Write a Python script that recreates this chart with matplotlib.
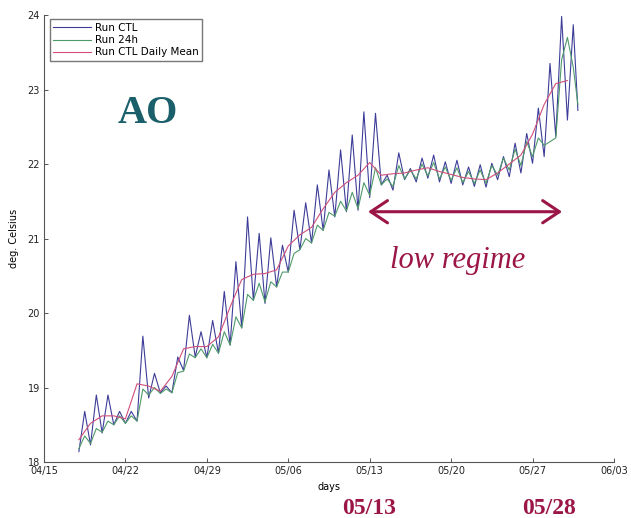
import numpy as np
import matplotlib
matplotlib.use("Agg")
import matplotlib.pyplot as plt

# days counted from 04/15; CTL/24h sampled at night minimum / afternoon maximum
T0, STEP = 3.0, 0.5
ctl = [18.14, 18.68, 18.23, 18.90, 18.39, 18.90, 18.50, 18.68, 18.52, 18.68,
       18.55, 19.69, 18.86, 19.19, 18.93, 19.02, 18.93, 19.41, 19.23, 19.97,
       19.41, 19.75, 19.40, 19.90, 19.46, 20.29, 19.57, 20.69, 19.80, 21.29,
       20.17, 21.07, 20.13, 21.01, 20.35, 20.91, 20.55, 21.38, 20.85, 21.48,
       20.94, 21.72, 21.11, 21.92, 21.29, 22.19, 21.36, 22.39, 21.38, 22.70,
       21.55, 22.68, 21.72, 21.85, 21.65, 22.15, 21.79, 21.94, 21.76, 22.08,
       21.81, 22.12, 21.76, 22.03, 21.74, 22.05, 21.72, 21.96, 21.70, 21.99,
       21.69, 22.01, 21.79, 22.10, 21.83, 22.28, 21.88, 22.41, 22.01, 22.75,
       22.10, 23.35, 22.37, 23.98, 22.59, 23.87, 22.72]
run24 = [18.18, 18.35, 18.25, 18.45, 18.40, 18.55, 18.50, 18.62, 18.52, 18.62,
         18.55, 18.98, 18.90, 19.00, 18.92, 18.98, 18.93, 19.20, 19.22, 19.45,
         19.40, 19.52, 19.40, 19.58, 19.46, 19.75, 19.57, 19.95, 19.80, 20.25,
         20.17, 20.40, 20.15, 20.42, 20.35, 20.55, 20.55, 20.80, 20.85, 21.00,
         20.94, 21.18, 21.11, 21.35, 21.30, 21.50, 21.37, 21.62, 21.40, 21.75,
         21.58, 21.95, 21.72, 21.80, 21.70, 21.98, 21.80, 21.92, 21.80, 22.00,
         21.84, 22.02, 21.80, 21.96, 21.78, 21.95, 21.75, 21.90, 21.74, 21.92,
         21.74, 21.98, 21.85, 22.08, 21.92, 22.20, 21.98, 22.30, 22.10, 22.35,
         22.25, 22.30, 22.35, 23.40, 23.70, 23.30, 22.80]
mean_days = list(range(3, 46))
daily_mean = [18.30, 18.52, 18.62, 18.62, 18.58, 19.05, 19.02, 18.95, 19.15, 19.52,
              19.55, 19.55, 19.68, 20.08, 20.45, 20.52, 20.53, 20.58, 20.90, 21.05,
              21.15, 21.40, 21.62, 21.75, 21.85, 22.02, 21.85, 21.87, 21.88, 21.92,
              21.95, 21.90, 21.86, 21.82, 21.80, 21.79, 21.88, 22.00, 22.12, 22.40,
              22.80, 23.08, 23.12]
tick_days = [0, 7, 14, 21, 28, 35, 42, 49]
tick_labels = ["04/15", "04/22", "04/29", "05/06", "05/13", "05/20", "05/27", "06/03"]

t_ctl = T0 + STEP * np.arange(len(ctl))
t_ctl[-1] = 45.9
t_24 = t_ctl.copy()

fig = plt.figure(figsize=(6.31, 5.18), dpi=100)
ax = fig.add_axes([0.0697, 0.108, 0.9033, 0.863])

ax.plot(t_ctl, ctl, color="#3d3d99", lw=0.8, label="Run CTL")
ax.plot(t_24, run24, color="#4f9a6a", lw=0.8, label="Run 24h")
ax.plot(mean_days, daily_mean, color="#d0507a", lw=0.8, label="Run CTL Daily Mean")

ax.set_xlim(0, 49)
ax.set_ylim(18, 24)
ax.set_xticks(tick_days)
ax.set_xticklabels(tick_labels)
ax.set_yticks(range(18, 25))
for s in ("top", "right"):
    ax.spines[s].set_visible(False)
for s in ("left", "bottom"):
    ax.spines[s].set_color("#555555")
    ax.spines[s].set_linewidth(0.8)
ax.tick_params(direction="in", length=3, width=0.7, color="#555555",
               labelsize=7, pad=3, labelcolor="#222222")
ax.set_xlabel("days", fontsize=7, labelpad=4)
ax.set_ylabel("deg. Celsius", fontsize=7, labelpad=6)

ax.legend(loc="upper left", bbox_to_anchor=(0.01, 0.99), borderaxespad=0,
          fontsize=7.5, handlelength=3.6, fancybox=False, framealpha=1,
          edgecolor="#777777", borderpad=0.35, labelspacing=0.2, handletextpad=0.4)

ax.text(8.95, 22.68, "AO", family="Liberation Serif", fontweight="bold",
        fontsize=29, color="#1a5f6a", ha="center", va="center")
ax.annotate("", xy=(27.86, 21.36), xytext=(44.54, 21.36),
            arrowprops=dict(arrowstyle="<->,head_length=0.6,head_width=0.4",
                            color="#9b1546", lw=2.2, mutation_scale=20,
                            shrinkA=0, shrinkB=0))
ax.text(35.6, 20.70, "low regime", family="Liberation Serif", style="italic",
        fontsize=22, color="#9b1546", ha="center", va="center")
xt = ax.get_xaxis_transform()
ax.text(27.95, -0.103, "05/13", transform=xt, family="Liberation Serif",
        fontweight="bold", fontsize=17, color="#9b1546", ha="center", va="center")
ax.text(43.4, -0.103, "05/28", transform=xt, family="Liberation Serif",
        fontweight="bold", fontsize=17, color="#9b1546", ha="center", va="center")

fig.savefig("out.png", dpi=100)
